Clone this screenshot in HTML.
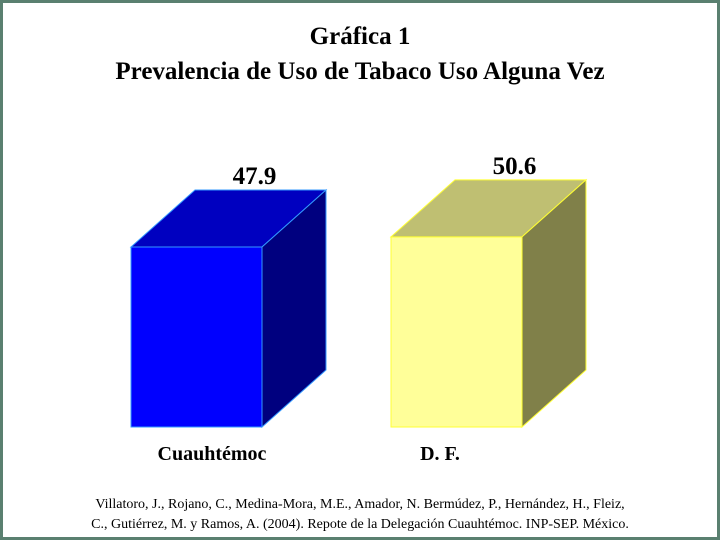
<!DOCTYPE html>
<html><head><meta charset="utf-8"><style>
html,body{margin:0;padding:0;background:#fff}
#wrap{position:relative;width:720px;height:540px;box-sizing:border-box;border:3px solid #5a8070;background:#fff;overflow:hidden;font-family:"Liberation Serif",serif}
.t{position:absolute;left:0;width:714px;text-align:center;font-weight:bold;font-size:25px;color:#000}
.foot{position:absolute;left:0;width:714px;text-align:center;font-size:14px;line-height:20px;color:#000}
</style></head><body>
<div id="wrap">
<div class="t" style="top:20px">Gráfica 1</div>
<div class="t" style="top:55px">Prevalencia de Uso de Tabaco Uso Alguna Vez</div>
<svg id="chart" width="714" height="534" style="position:absolute;left:0;top:0"></svg>
<div class="foot" style="top:492px">Villatoro, J., Rojano, C., Medina-Mora, M.E., Amador, N. Bermúdez, P., Hernández, H., Fleiz,<br>C., Gutiérrez, M. y Ramos, A. (2004). Repote de la Delegación Cuauhtémoc. INP-SEP. México.</div>
</div>
<script>
const categories = ["Cuauhtémoc", "D. F."];
const values = [47.9, 50.6];
const valueLabels = ["47.9", "50.6"];
const ns = "http://www.w3.org/2000/svg";
const svg = document.getElementById("chart");
const off = 3; // border offset
const baseY = 427 - off, scale = 3.757, barW = 131, dx = 64, dy = 57;
const xLeft = i => 128 + i * 260;
const yOf = v => baseY - v * scale;
const colors = [
  {front:"#0000ff", top:"#0000c0", side:"#00007f", stroke:"#3399ff"},
  {front:"#ffff99", top:"#bfbf72", side:"#808049", stroke:"#ffff33"}
];
function poly(pts, fill, stroke, name){
  const p = document.createElementNS(ns, "polygon");
  p.setAttribute("points", pts.map(q => q.join(",")).join(" "));
  p.setAttribute("fill", fill);
  p.setAttribute("stroke", stroke);
  p.setAttribute("stroke-width", "1");
  
  
  svg.appendChild(p);
}
function txt(x, y, s, size, name){
  const t = document.createElementNS(ns, "text");
  t.setAttribute("x", x); t.setAttribute("y", y);
  t.setAttribute("text-anchor", "middle");
  t.setAttribute("font-family", "Liberation Serif, serif");
  t.setAttribute("font-weight", "bold");
  t.setAttribute("font-size", size);
  t.textContent = s;
  
  
  svg.appendChild(t);
}
values.forEach((v, i) => {
  const x0 = xLeft(i), x1 = x0 + barW, yt = yOf(v), c = colors[i];
  poly([[x0,yt],[x1,yt],[x1,baseY],[x0,baseY]], c.front, c.stroke, "bar-front-" + i);
  poly([[x0,yt],[x0+dx,yt-dy],[x1+dx,yt-dy],[x1,yt]], c.top, c.stroke, "bar-top-" + i);
  poly([[x1,yt],[x1+dx,yt-dy],[x1+dx,baseY-dy],[x1,baseY]], c.side, c.stroke, "bar-side-" + i);
  txt(x0 + barW/2 + dx/2 + 26, yt - dy - 6, valueLabels[i], 25, "value-label-" + i);
  txt(i === 0 ? 209 : 437, 460 - off, categories[i], 20, "category-label-" + i);
});
</script>
</body></html>
